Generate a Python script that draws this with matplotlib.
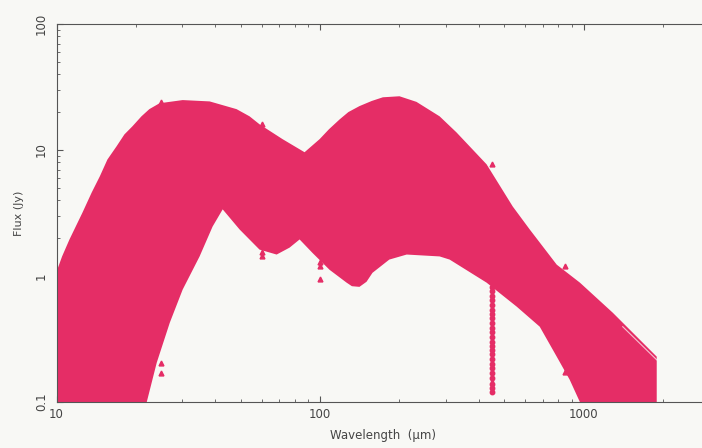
import numpy as np
import matplotlib
matplotlib.use("Agg")
import matplotlib.pyplot as plt

# Upper envelope of the model SED band (wavelength um, flux Jy)
upper_wl = [10, 10.5, 11.2, 12.55, 13.6, 14.6, 15.6, 16.9, 18.1, 19.4, 21.0, 22.5,
            24.6, 30.1, 38.1, 48.2, 54.0, 58.9, 72.0, 87.3, 99.6, 108, 118.6, 128,
            141, 157, 173, 200, 232, 284, 329, 428, 538, 624, 790, 967, 1289, 1892]
upper_fx = [1.08, 1.43, 1.95, 3.19, 4.6, 6.18, 8.4, 10.7, 13.3, 15.4, 18.5, 21.1,
            23.5, 24.9, 24.3, 21.1, 18.5, 16.0, 12.2, 9.6, 12.2, 14.6, 17.5, 20.0,
            22.3, 24.5, 26.2, 26.7, 24.1, 18.5, 13.8, 7.7, 3.56, 2.34, 1.23, 0.886,
            0.511, 0.229]

# Lower envelope
lower_wl = [10, 21.0, 22.0, 24.0, 26.9, 30.1, 34.9, 39.1, 42.7, 49.5, 58.9, 68.4,
            76.6, 83.6, 93.7, 108.6, 126, 132, 141, 150, 158, 183, 213, 284, 310,
            428, 557, 681, 790, 885, 967, 1050, 1892]
lower_fx = [0.05, 0.07, 0.1, 0.205, 0.426, 0.78, 1.43, 2.47, 3.38, 2.34, 1.62, 1.48,
            1.68, 1.95, 1.52, 1.12, 0.886, 0.83, 0.82, 0.9, 1.06, 1.35, 1.48, 1.43,
            1.35, 0.886, 0.571, 0.396, 0.229, 0.15, 0.1, 0.07, 0.05]

# Observed photometry points
obs_wl = [25, 25, 25, 60, 60, 60, 100, 100, 100, 450,
          850, 850]
obs_fx = [23.9, 0.205, 0.17, 16.0, 1.56, 1.43, 1.30, 1.19, 0.94, 7.7,
          1.19, 0.173]

# Dense column of 450 um measurements
col_wl = [450] * 24
col_fx = [0.82, 0.76, 0.70, 0.64, 0.59, 0.54, 0.50, 0.46, 0.42, 0.39, 0.36, 0.33,
          0.30, 0.28, 0.26, 0.24, 0.22, 0.20, 0.185, 0.17, 0.155, 0.14, 0.13, 0.12]

# Thin gap line near the long-wavelength edge
gap_wl = [1406, 1892]
gap_fx = [0.396, 0.216]

color = "#e52d66"
bg = "#f8f8f5"
axcol = "#555555"

fig = plt.figure(figsize=(7.02, 4.48), dpi=100, facecolor=bg)
ax = fig.add_axes([56.5 / 702, 46 / 448, 653 / 702, 378 / 448])
ax.set_facecolor(bg)
ax.set_xscale("log")
ax.set_yscale("log")
ax.set_xlim(10, 3000)
ax.set_ylim(0.1, 100)

poly_x = list(upper_wl) + list(lower_wl[::-1])
poly_y = list(upper_fx) + list(lower_fx[::-1])
ax.fill(poly_x, poly_y, color=color, lw=0, zorder=2)
ax.plot(obs_wl, obs_fx, ls="none", marker="^", ms=3.5, color=color, zorder=3)
ax.plot(col_wl, col_fx, ls="-", lw=2.5, marker="o", ms=3.2, color=color, zorder=3)
ax.plot(gap_wl, gap_fx, color="white", lw=0.8, alpha=0.7, zorder=3)

for s in ax.spines.values():
    s.set_color(axcol)
    s.set_linewidth(0.8)

ax.tick_params(which="both", direction="in", top=True, right=False, colors=axcol,
               labelsize=8.5, labelcolor="#444444")
ax.tick_params(which="major", length=4)
ax.tick_params(which="minor", length=2)
ax.set_xticks([10, 100, 1000])
ax.set_xticklabels(["10", "100", "1000"])
ax.set_yticks([0.1, 1, 10, 100])
ax.set_yticklabels(["0.1", "1", "10", "100"], rotation=90, va="center")
ax.tick_params(axis="x", pad=4)
ax.tick_params(axis="y", pad=6)

ax.set_xlabel("Wavelength  (\u03bcm)", fontsize=8.5, color="#444444", labelpad=6)
ax.set_ylabel("Flux (Jy)", fontsize=8, color="#444444", labelpad=8)

fig.savefig("out.png", dpi=100, facecolor=bg)
